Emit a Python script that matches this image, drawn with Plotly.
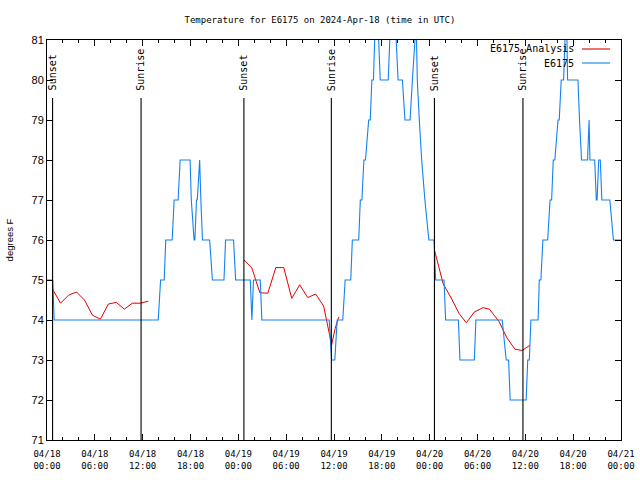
import plotly.graph_objects as go
import pandas as pd

BASE = pd.Timestamp("2024-04-18 00:00")

# E6175 observed temperature (hours after 2024-04-18 00:00 UTC, degrees F)
blue_hours = [0.0, 0.72, 0.9, 13.95, 14.25, 14.7, 14.9, 15.7, 15.95, 16.45, 16.7, 17.95,
              18.1, 18.45, 18.55, 18.75, 18.85, 19.15, 19.3, 19.5, 20.4, 20.75, 22.2, 22.4,
              23.4, 23.66, 25.5, 25.7, 25.9, 26.75, 26.95, 35.4, 35.7, 36.1, 36.4, 37.1,
              37.4, 38.1, 38.3, 39.1, 39.3, 39.5, 39.75, 39.95, 40.35, 40.55, 40.75, 40.95,
              41.1, 41.35, 41.6, 41.8, 42.8, 43.0, 43.4, 43.8, 44.04, 44.58, 44.9, 45.54,
              45.83, 46.16, 46.25, 46.33, 46.45, 46.7, 47.0, 47.4, 47.9, 48.55, 48.75, 49.8,
              50.0, 51.6, 51.8, 53.6, 53.8, 57.1, 57.6, 57.9, 58.1, 60.1, 60.3, 60.5,
              60.7, 61.6, 61.75, 61.95, 62.2, 62.8, 63.1, 63.3, 63.5, 63.7, 64.1, 64.25,
              64.5, 64.8, 65.05, 65.15, 65.3, 66.6, 66.8, 67.05, 67.8, 68.0, 68.1, 68.7,
              68.9, 69.0, 69.2, 69.4, 69.6, 70.6, 71.05, 72.0]
blue_temps = [75, 75, 74, 74, 75, 75, 76, 76, 77, 77, 78, 78,
              77, 76, 76, 77, 77, 78, 77, 76, 76, 75, 75, 76,
              76, 75, 75, 74, 75, 75, 74, 74, 73, 73, 74, 74,
              75, 75, 76, 76, 77, 77, 78, 78, 79, 79, 80, 80,
              81, 82, 81, 80, 80, 81, 82, 81, 80, 80, 79, 79,
              80, 81, 82, 81, 80, 79, 78, 77, 76, 76, 75, 75,
              74, 74, 73, 73, 74, 74, 73, 73, 72, 72, 73, 73,
              74, 74, 75, 75, 76, 76, 77, 77, 78, 78, 79, 79,
              80, 80, 81, 82, 80, 80, 79, 78, 78, 79, 78, 78,
              77, 77, 78, 78, 77, 77, 76, 76]

# E6175 Analysis (night-time segments, None separates them)
red_hours = [0.7, 1.7, 2.7, 3.7, 4.7, 5.7, 6.7, 7.7, 8.7, 9.7, 10.7, 11.7, 12.7, None,
             24.7, 25.7, 26.7, 27.7, 28.7, 29.7, 30.7, 31.7, 32.7, 33.7, 34.7, 35.3, 35.7,
             36.15, 36.6, None,
             48.6, 48.95, 49.7, 50.7, 51.7, 52.6, 53.6, 54.7, 55.5, 56.7, 57.7, 58.7, 59.6, 60.6]
red_temps = [74.77, 74.42, 74.62, 74.70, 74.50, 74.12, 74.02, 74.40, 74.44, 74.27, 74.42, 74.42, 74.47, None,
             75.50, 75.30, 74.68, 74.67, 75.31, 75.31, 74.54, 74.88, 74.56, 74.65, 74.35, 73.75, 73.38,
             73.79, 74.08, None,
             75.75, 75.46, 74.90, 74.55, 74.16, 73.93, 74.20, 74.31, 74.27, 73.96, 73.55, 73.27, 73.24, 73.37]

sun_event_times = ["2024-04-18 00:42", "2024-04-18 11:48", "2024-04-19 00:42",
                   "2024-04-19 11:40", "2024-04-20 00:36", "2024-04-20 11:42"]
sun_event_labels = ["Sunset", "Sunrise", "Sunset", "Sunrise", "Sunset", "Sunrise"]

tick_times = ["2024-04-18 00:00", "2024-04-18 06:00", "2024-04-18 12:00", "2024-04-18 18:00",
              "2024-04-19 00:00", "2024-04-19 06:00", "2024-04-19 12:00", "2024-04-19 18:00",
              "2024-04-20 00:00", "2024-04-20 06:00", "2024-04-20 12:00", "2024-04-20 18:00",
              "2024-04-21 00:00"]
tick_labels = ["04/18<br>00:00", "04/18<br>06:00", "04/18<br>12:00", "04/18<br>18:00",
               "04/19<br>00:00", "04/19<br>06:00", "04/19<br>12:00", "04/19<br>18:00",
               "04/20<br>00:00", "04/20<br>06:00", "04/20<br>12:00", "04/20<br>18:00",
               "04/21<br>00:00"]
y_ticks = [71, 72, 73, 74, 75, 76, 77, 78, 79, 80, 81]

series_names = ["E6175 Analysis", "E6175"]
series_colors = ["#e00000", "#1282f0"]


def to_time(hours):
    return [None if h is None else BASE + pd.Timedelta(hours=h) for h in hours]


MONO = "DejaVu Sans Mono"
SANS = "Liberation Sans"

fig = go.Figure()
fig.add_trace(go.Scatter(x=to_time(red_hours), y=red_temps, mode="lines",
                         name=series_names[0], line=dict(color=series_colors[0], width=1)))
fig.add_trace(go.Scatter(x=to_time(blue_hours), y=blue_temps, mode="lines",
                         name=series_names[1], line=dict(color=series_colors[1], width=1.1)))

shapes = []
annotations = []
for t, lab in zip(sun_event_times, sun_event_labels):
    shapes.append(dict(type="line", xref="x", yref="paper", x0=t, x1=t, y0=0, y1=0.855,
                       line=dict(color="black", width=1.1)))
    annotations.append(dict(text=lab, x=t, xref="x", y=0.868, yref="paper", textangle=-90,
                            xanchor="center", yanchor="bottom", showarrow=False,
                            font=dict(family=MONO, size=10, color="black")))

# manual legend (text right-aligned, sample line on the right)
leg_y = [0.9775, 0.9425]
for name, col, yy in zip(series_names, series_colors, leg_y):
    annotations.append(dict(text=name, x=0.921, xref="paper", y=yy, yref="paper",
                            xanchor="right", yanchor="middle", showarrow=False,
                            font=dict(family=MONO, size=10, color="black")))
    shapes.append(dict(type="line", xref="paper", yref="paper", x0=0.932, x1=0.981,
                       y0=yy, y1=yy, line=dict(color=col, width=1.1)))

fig.update_layout(
    width=640, height=480,
    margin=dict(l=47, r=19, t=40, b=40, autoexpand=False),
    paper_bgcolor="white", plot_bgcolor="white",
    showlegend=False,
    title=dict(text="Temperature for E6175 on 2024-Apr-18 (time in UTC)",
               x=0.5, xanchor="center", y=1 - 20 / 480, yanchor="middle",
               font=dict(family=MONO, size=9, color="black")),
    shapes=shapes, annotations=annotations,
)
fig.update_xaxes(type="date", range=[tick_times[0], tick_times[-1]], automargin=False,
                 tickmode="array", tickvals=tick_times, ticktext=tick_labels,
                 ticks="inside", ticklen=6, tickcolor="black", tickwidth=1,
                 ticklabelstandoff=5,
                 minor=dict(dtick=2 * 3600 * 1000, ticks="inside", ticklen=3,
                            tickcolor="black", tickwidth=1),
                 showline=True, linecolor="black", linewidth=1, mirror="ticks",
                 showgrid=False, zeroline=False,
                 tickfont=dict(family=MONO, size=9, color="black"))
fig.update_yaxes(range=[71, 81], tickmode="array", tickvals=y_ticks, automargin=False,
                 ticks="inside", ticklen=6, tickcolor="black", tickwidth=1,
                 showline=True, linecolor="black", linewidth=1, mirror="ticks",
                 showgrid=False, zeroline=False,
                 tickfont=dict(family=SANS, size=11, color="black"),
                 title=dict(text="degrees F", standoff=16,
                            font=dict(family=SANS, size=9.5, color="black")))

fig.write_html("out.html", config={"displayModeBar": False},
               post_script="document.body.style.margin='0';document.body.style.padding='0';")
